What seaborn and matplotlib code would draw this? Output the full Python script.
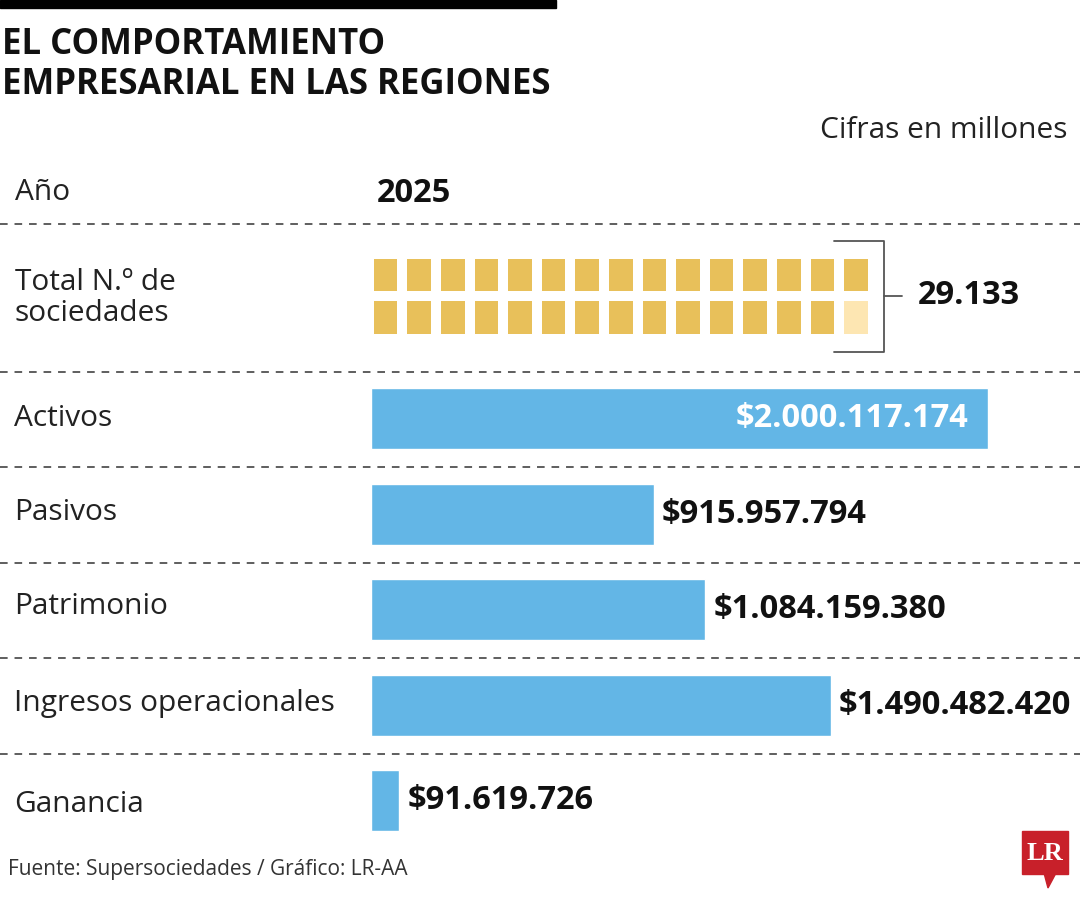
import numpy as np
import matplotlib
matplotlib.use("Agg")
import matplotlib.pyplot as plt
import seaborn as sns
from matplotlib.colors import ListedColormap
from matplotlib.patches import Rectangle, Polygon

sns.set_style("white")
plt.rcParams['font.family'] = ['Open Sans', 'DejaVu Sans']

# Data
categories = ["Activos", "Pasivos", "Patrimonio", "Ingresos operacionales", "Ganancia"]
values = [2000117174, 915957794, 1084159380, 1490482420, 91619726]
total_sociedades = 29133
year = "2025"

title = "EL COMPORTAMIENTO\nEMPRESARIAL EN LAS REGIONES"
unit_note = "Cifras en millones"
source = "Fuente: Supersociedades / Gráfico: LR-AA"

bar_color = "#63B6E6"
gold = "#E8C05A"
light_gold = "#FDE6B2"
W, H = 1080, 900


def fmt(v):
    return f"{v:,}".replace(",", ".")


fig = plt.figure(figsize=(W / 100, H / 100), dpi=100)
fig.patch.set_facecolor("white")

# Overlay axes in pixel coordinates for texts and separators
ax0 = fig.add_axes([0, 0, 1, 1])
ax0.set_xlim(0, W)
ax0.set_ylim(H, 0)
ax0.axis("off")

ax0.add_patch(Rectangle((0, 0), 556, 8, color="black"))
ax0.text(2, 45, title.split("\n")[0], fontsize=25, fontweight="bold", va="center",
         ha="left", color="#111111")
ax0.text(2, 85, title.split("\n")[1], fontsize=25, fontweight="bold", va="center",
         ha="left", color="#111111")
ax0.text(1068, 130, unit_note, fontsize=21.5, ha="right", va="center", color="#222222")

ax0.text(15, 193, "Año", fontsize=21.5, va="center", color="#222222")
ax0.text(377, 193, year, fontsize=23.5, fontweight="bold", va="center", color="#111111")
ax0.text(15, 298, "Total N.º de\nsociedades", fontsize=21.5, va="center", color="#222222",
         linespacing=1.05)

row_centers = [418.7, 512, 607, 703, 804]
for lab, yc in zip(categories, row_centers):
    ax0.text(14, yc, lab, fontsize=21.5, va="center", color="#222222")

for y in [224, 371.5, 467, 562.5, 658, 753.5]:
    ax0.plot([0, W], [y, y], color="#333333", lw=1.1, linestyle=(0, (5, 4.5)))

# bracket around the waffle
ax0.plot([834, 884, 884, 834], [240.7, 240.7, 352, 352], color="#555555", lw=1.3)
ax0.plot([884, 902], [296, 296], color="#555555", lw=1.3)
ax0.text(918, 296, fmt(total_sociedades), fontsize=23.5, fontweight="bold",
         va="center", ha="left", color="#111111")

ax0.text(8, 870, source, fontsize=15, va="center", color="#333333")

# LR logo
ax0.add_patch(Rectangle((1022, 831), 46, 43, color="#C8202A"))
ax0.add_patch(Polygon([[1044, 873], [1056, 873], [1048, 888]], color="#C8202A"))
ax0.text(1045, 854, "LR", fontsize=19, fontweight="bold", family="Liberation Serif",
         color="white", ha="center", va="center")

# Waffle: each square = 1.000 sociedades
n_cols, n_rows = 15, 2
fill = np.clip(total_sociedades / 1000 - np.arange(n_cols * n_rows), 0, 1)
waffle = fill.reshape(n_rows, n_cols)
axw = fig.add_axes([368.7 / W, (H - 338.5) / H, 504 / W, 85 / H])
sns.heatmap(waffle, cmap=ListedColormap([light_gold, gold]), vmin=0, vmax=1,
            cbar=False, linewidths=5.8, linecolor="white",
            xticklabels=False, yticklabels=False, ax=axw)
axw.axis("off")

# Bars
top_px, bot_px = 370.95, 848.45
axb = fig.add_axes([371 / W, (H - bot_px) / H, (W - 371) / W, (bot_px - top_px) / H])
axb.patch.set_alpha(0)
sns.barplot(x=values, y=categories, orient="h", color=bar_color, saturation=1,
            width=0.636, ax=axb)
axb.set_xlim(0, max(values) * (W - 371) / 617)
axb.set_ylim(4.5, -0.5)
axb.axis("off")

for i, v in enumerate(values):
    if v == max(values):
        axb.annotate("$" + fmt(v), (v, i), xytext=(-14, 0), textcoords="offset points",
                     ha="right", va="center", fontsize=23.5, fontweight="bold", color="white")
    else:
        axb.annotate("$" + fmt(v), (v, i), xytext=(6, 0), textcoords="offset points",
                     ha="left", va="center", fontsize=23.5, fontweight="bold", color="#111111")

fig.savefig("out.png", dpi=100)
